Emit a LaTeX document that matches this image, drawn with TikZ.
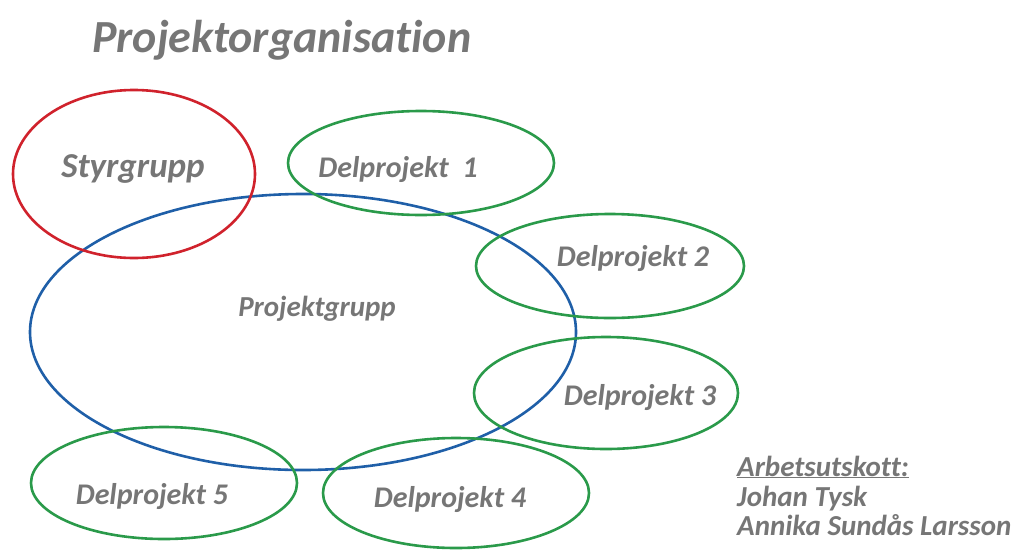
\documentclass[tikz,border=0pt]{standalone}
\usepackage{fontspec}
\setmainfont[Ligatures=NoCommon]{Carlito}
\usetikzlibrary{shapes.geometric}
\definecolor{txtgray}{HTML}{767676}
\definecolor{ellred}{HTML}{D0222C}
\definecolor{ellblue}{HTML}{1F5FA8}
\definecolor{ellgreen}{HTML}{2A9A4A}
\tikzset{
  ell/.style={ellipse, draw, line width=2.6pt, inner sep=0pt},
  lbl/.style={text=txtgray, font=\fontsize{30}{34}\selectfont\bfseries\itshape, inner sep=0pt},
  side/.style={text=txtgray, font=\fontsize{29}{32}\selectfont\bfseries\itshape, inner sep=0pt, anchor=base west},
}
\begin{document}
\begin{tikzpicture}[x=1pt,y=-1pt]
\useasboundingbox (0,0) rectangle (1016,549);
% ellipses
\node[ell, draw=ellblue, minimum width=546pt, minimum height=276pt] (pg) at (303,332) {};
\node[ell, draw=ellred, minimum width=242pt, minimum height=168pt] (sg) at (134,174) {};
\node[ell, draw=ellgreen, minimum width=266pt, minimum height=104pt] (d1) at (421,163) {};
\node[ell, draw=ellgreen, minimum width=268pt, minimum height=104pt] (d2) at (610,266) {};
\node[ell, draw=ellgreen, minimum width=264pt, minimum height=112pt] (d3) at (606,393) {};
\node[ell, draw=ellgreen, minimum width=266pt, minimum height=110pt] (d4) at (456,493) {};
\node[ell, draw=ellgreen, minimum width=266pt, minimum height=112pt] (d5) at (164,483) {};
% title
\node[text=txtgray, font=\fontsize{46}{50}\selectfont\bfseries\itshape, inner sep=0pt, anchor=base west] (title) at (92,52) {Projektorganisation};
% labels
\node[lbl, font=\fontsize{35}{40}\selectfont\bfseries\itshape] (sgl) at (133,169) {Styrgrupp};
\node[lbl, font=\fontsize{29}{34}\selectfont\bfseries\itshape] (pgl) at (317,309) {Projektgrupp};
\node[lbl] (d1l) at (398,170) {Delprojekt\ \ 1};
\node[lbl] (d2l) at (633,259) {Delprojekt 2};
\node[lbl] (d3l) at (640,398) {Delprojekt 3};
\node[lbl] (d4l) at (450,499) {Delprojekt 4};
\node[lbl] (d5l) at (152,496) {Delprojekt 5};
% working committee
\node[side] (au) at (737,476) {\underline{Arbetsutskott:}};
\node[side] (jt) at (737,506) {Johan Tysk};
\node[side] (asl) at (737,535) {Annika Sundås Larsson};
\end{tikzpicture}
\end{document}
